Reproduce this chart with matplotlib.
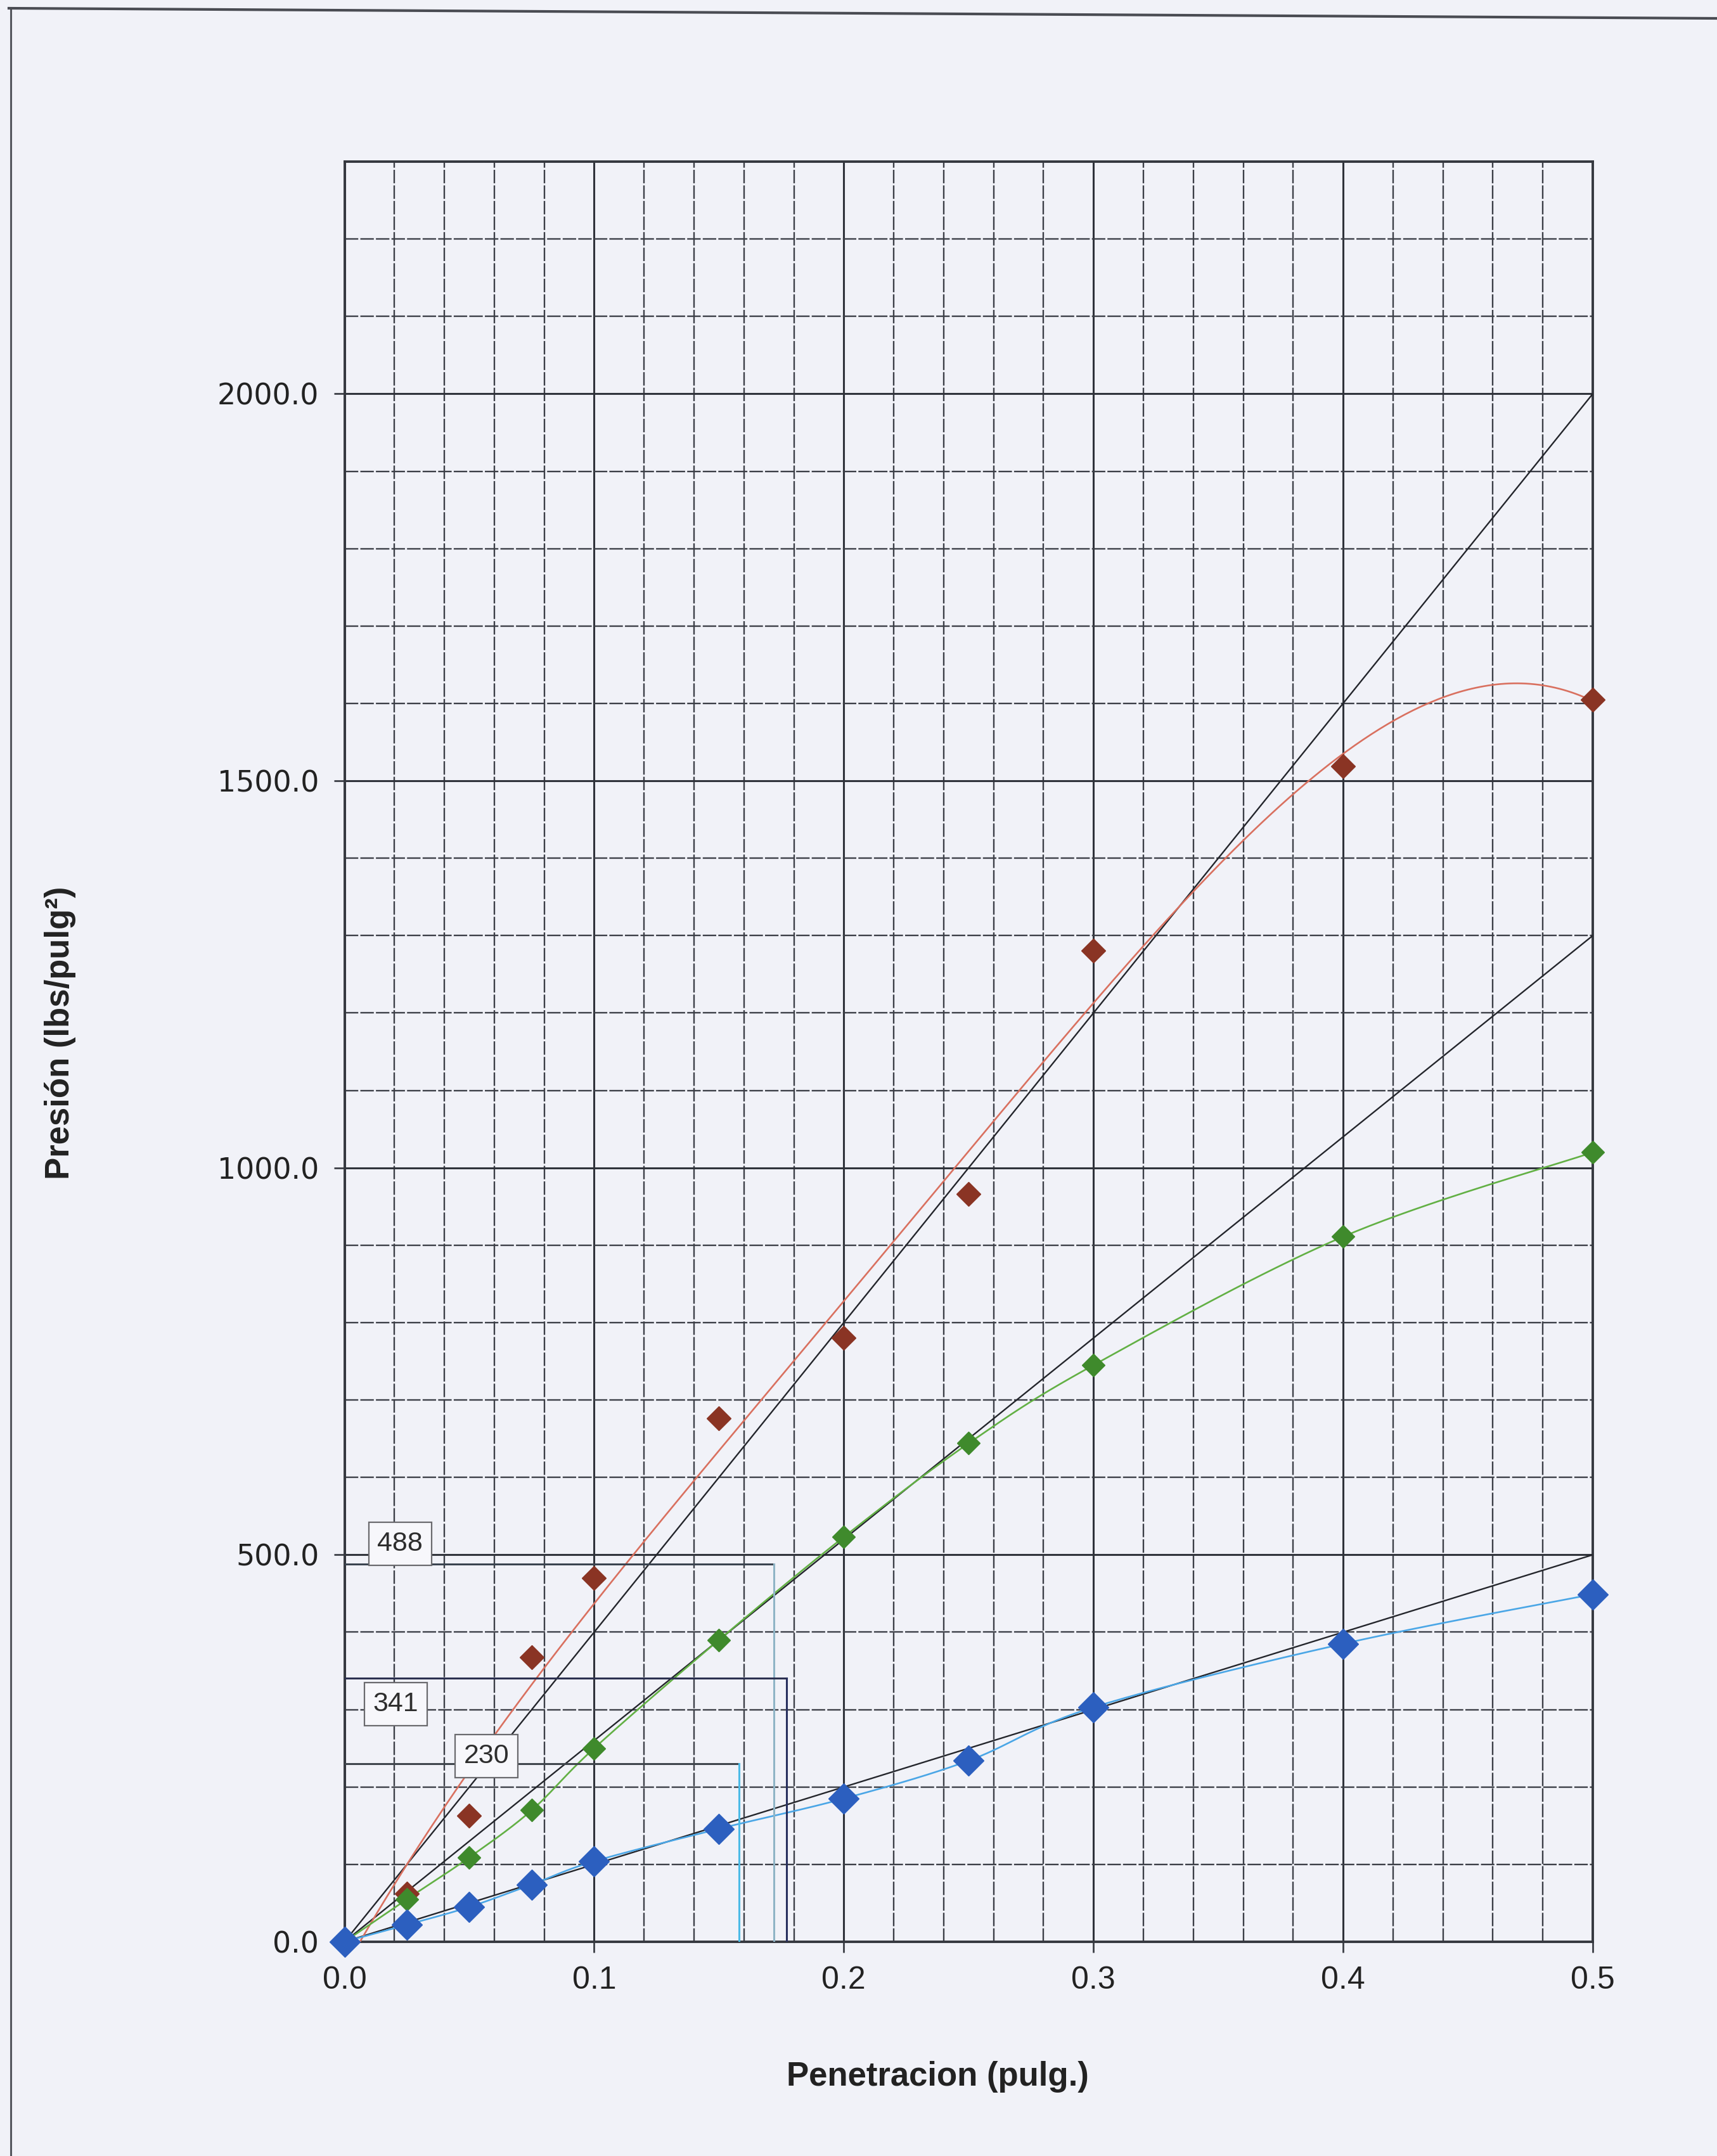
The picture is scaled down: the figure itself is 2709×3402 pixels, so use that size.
import numpy as np
import matplotlib
matplotlib.use("Agg")
import matplotlib.pyplot as plt
from matplotlib.lines import Line2D
from matplotlib.ticker import MultipleLocator, FixedLocator

# ---- data -------------------------------------------------------------
penetracion = [0.0, 0.025, 0.05, 0.075, 0.1, 0.15, 0.2, 0.25, 0.3, 0.4, 0.5]

presion_roja = [0, 62, 163, 368, 470, 676, 780, 966, 1281, 1519, 1605]
presion_verde = [0, 55, 109, 170, 250, 390, 523, 644, 745, 911, 1020]
presion_azul = [0, 22, 45, 74, 104, 146, 185, 234, 303, 385, 449]

# straight reference lines from the origin (value reached at 0.5 in)
recta_x = [0.0, 0.5]
recta_roja = [0, 2000]
recta_verde = [0, 1300]
recta_azul = [0, 500]

# read-off values and the penetration where each guide line turns down
lectura_valores = [488, 341, 230]
lectura_x = [0.172, 0.177, 0.158]

x_ticks = [0.0, 0.1, 0.2, 0.3, 0.4, 0.5]
x_tick_labels = ["0.0", "0.1", "0.2", "0.3", "0.4", "0.5"]
y_ticks = [0, 500, 1000, 1500, 2000]
y_tick_labels = ["0.0", "500.0", "1000.0", "1500.0", "2000.0"]


def suavizar(x, y, n=40):
    """Bezier smoothing through every point (Catmull-Rom style)."""
    pts = np.column_stack([x, y]).astype(float)
    P = np.vstack([pts[0], pts, pts[-1]])
    segs = []
    t = np.linspace(0, 1, n)[:, None]
    for i in range(1, len(P) - 2):
        p0, p1, p2, p3 = P[i - 1], P[i], P[i + 1], P[i + 2]
        c1 = p1 + (p2 - p0) / 6.0
        c2 = p2 - (p3 - p1) / 6.0
        seg = ((1 - t) ** 3) * p1 + 3 * ((1 - t) ** 2) * t * c1 \
            + 3 * (1 - t) * t ** 2 * c2 + t ** 3 * p2
        segs.append(seg)
    return np.vstack(segs)


# ---- figure -----------------------------------------------------------
PAPER = "#f1f2f8"
W, H = 2709, 3402
DPI = 100
fig = plt.figure(figsize=(W / DPI, H / DPI), dpi=DPI, facecolor=PAPER)

left, right = 543.5 / W, 2513 / W
bottom, top = 1 - 3064 / H, 1 - 255 / H
ax = fig.add_axes([left, bottom, right - left, top - bottom], facecolor=PAPER)
ax.set_xlim(0, 0.5)
ax.set_ylim(0, 2300)

# grid
ax.xaxis.set_major_locator(FixedLocator(x_ticks))
ax.yaxis.set_major_locator(FixedLocator(y_ticks))
ax.xaxis.set_minor_locator(MultipleLocator(0.02))
ax.yaxis.set_minor_locator(MultipleLocator(100))
ax.grid(which="major", color="#30333b", linewidth=2.2, zorder=0)
ax.grid(which="minor", color="#3c3f47", linewidth=1.7,
        linestyle=(0, (9, 1.4)), zorder=0)
ax.set_axisbelow(True)

for sp in ax.spines.values():
    sp.set_color("#35383f")
    sp.set_linewidth(2.8)

ax.set_xticks(x_ticks)
ax.set_xticklabels(x_tick_labels, fontfamily="Liberation Sans", fontsize=36,
                   color="#222222")
ax.set_yticks(y_ticks)
ax.set_yticklabels(y_tick_labels, fontfamily="DejaVu Sans", fontsize=33,
                   color="#222222")
ax.tick_params(axis="x", which="major", direction="out", length=12,
               width=2.0, color="#3c3f46", pad=15)
ax.tick_params(axis="y", which="major", direction="out", length=12,
               width=2.0, color="#3c3f46", pad=17)
ax.tick_params(which="minor", length=0)

# straight lines from the origin
for yy in (recta_roja, recta_verde, recta_azul):
    ax.plot(recta_x, yy, color="#23252b", linewidth=1.7, zorder=3)

# polynomial trend for the red series
coef = np.polyfit(penetracion, presion_roja, 4)
xs = np.linspace(0.0, 0.5, 300)
ax.plot(xs, np.polyval(coef, xs), color="#d9705f", linewidth=1.9, zorder=3)

# smoothed lines through the green and blue series
cv = suavizar(penetracion, presion_verde)
ax.plot(cv[:, 0], cv[:, 1], color="#62b044", linewidth=1.9, zorder=3)
ca = suavizar(penetracion, presion_azul)
ax.plot(ca[:, 0], ca[:, 1], color="#4aa6e6", linewidth=1.9, zorder=3)

# markers
ax.plot(penetracion, presion_roja, linestyle="none", marker="D",
        markersize=19, color="#8a3424", zorder=5, clip_on=False)
ax.plot(penetracion, presion_verde, linestyle="none", marker="D",
        markersize=18, color="#3f8a2c", zorder=5, clip_on=False)
ax.plot(penetracion, presion_azul, linestyle="none", marker="D",
        markersize=24, color="#2c5fbf", zorder=6, clip_on=False)

# guide lines for the read-off values
guia_h = ["#3a4450", "#2c3150", "#3f454c"]
guia_v = ["#8fb4c6", "#28305e", "#4cbbe6"]
for val, xv, ch, cvv in zip(lectura_valores, lectura_x, guia_h, guia_v):
    ax.plot([0, xv], [val, val], color=ch, linewidth=2.2, zorder=4)
    ax.plot([xv, xv], [val, 0], color=cvv, linewidth=2.2, zorder=4)

cajas = [(0.0223, 514), (0.0205, 307), (0.0568, 240)]
for val, (bx, by) in zip(lectura_valores, cajas):
    ax.text(bx, by, str(val), ha="center", va="center",
            fontfamily="Liberation Sans", fontsize=31, color="#2e2e2e",
            zorder=8,
            bbox=dict(boxstyle="square,pad=0.32", facecolor="#f7f7fb",
                      edgecolor="#6a6a6e", linewidth=1.6))

# axis titles
ax.set_xlabel("Penetracion (pulg.)", fontfamily="Liberation Sans",
              fontweight="bold", fontsize=38, color="#222222")
ax.xaxis.set_label_coords(0.475, -0.067)
ax.set_ylabel("Presión (lbs/pulg²)", fontfamily="Liberation Sans",
              fontweight="bold", fontsize=38, color="#222222")
ax.yaxis.set_label_coords(-0.215, 0.5107)

# page frame
fig.add_artist(Line2D([17 / W, 17 / W], [1 - 14 / H, 0.0],
                      color="#55575e", linewidth=2.2))
fig.add_artist(Line2D([14 / W, 1.0], [1 - 13 / H, 1 - 29 / H],
                      color="#4a4c53", linewidth=3.0))

fig.savefig("out.png", dpi=DPI, facecolor=PAPER)
